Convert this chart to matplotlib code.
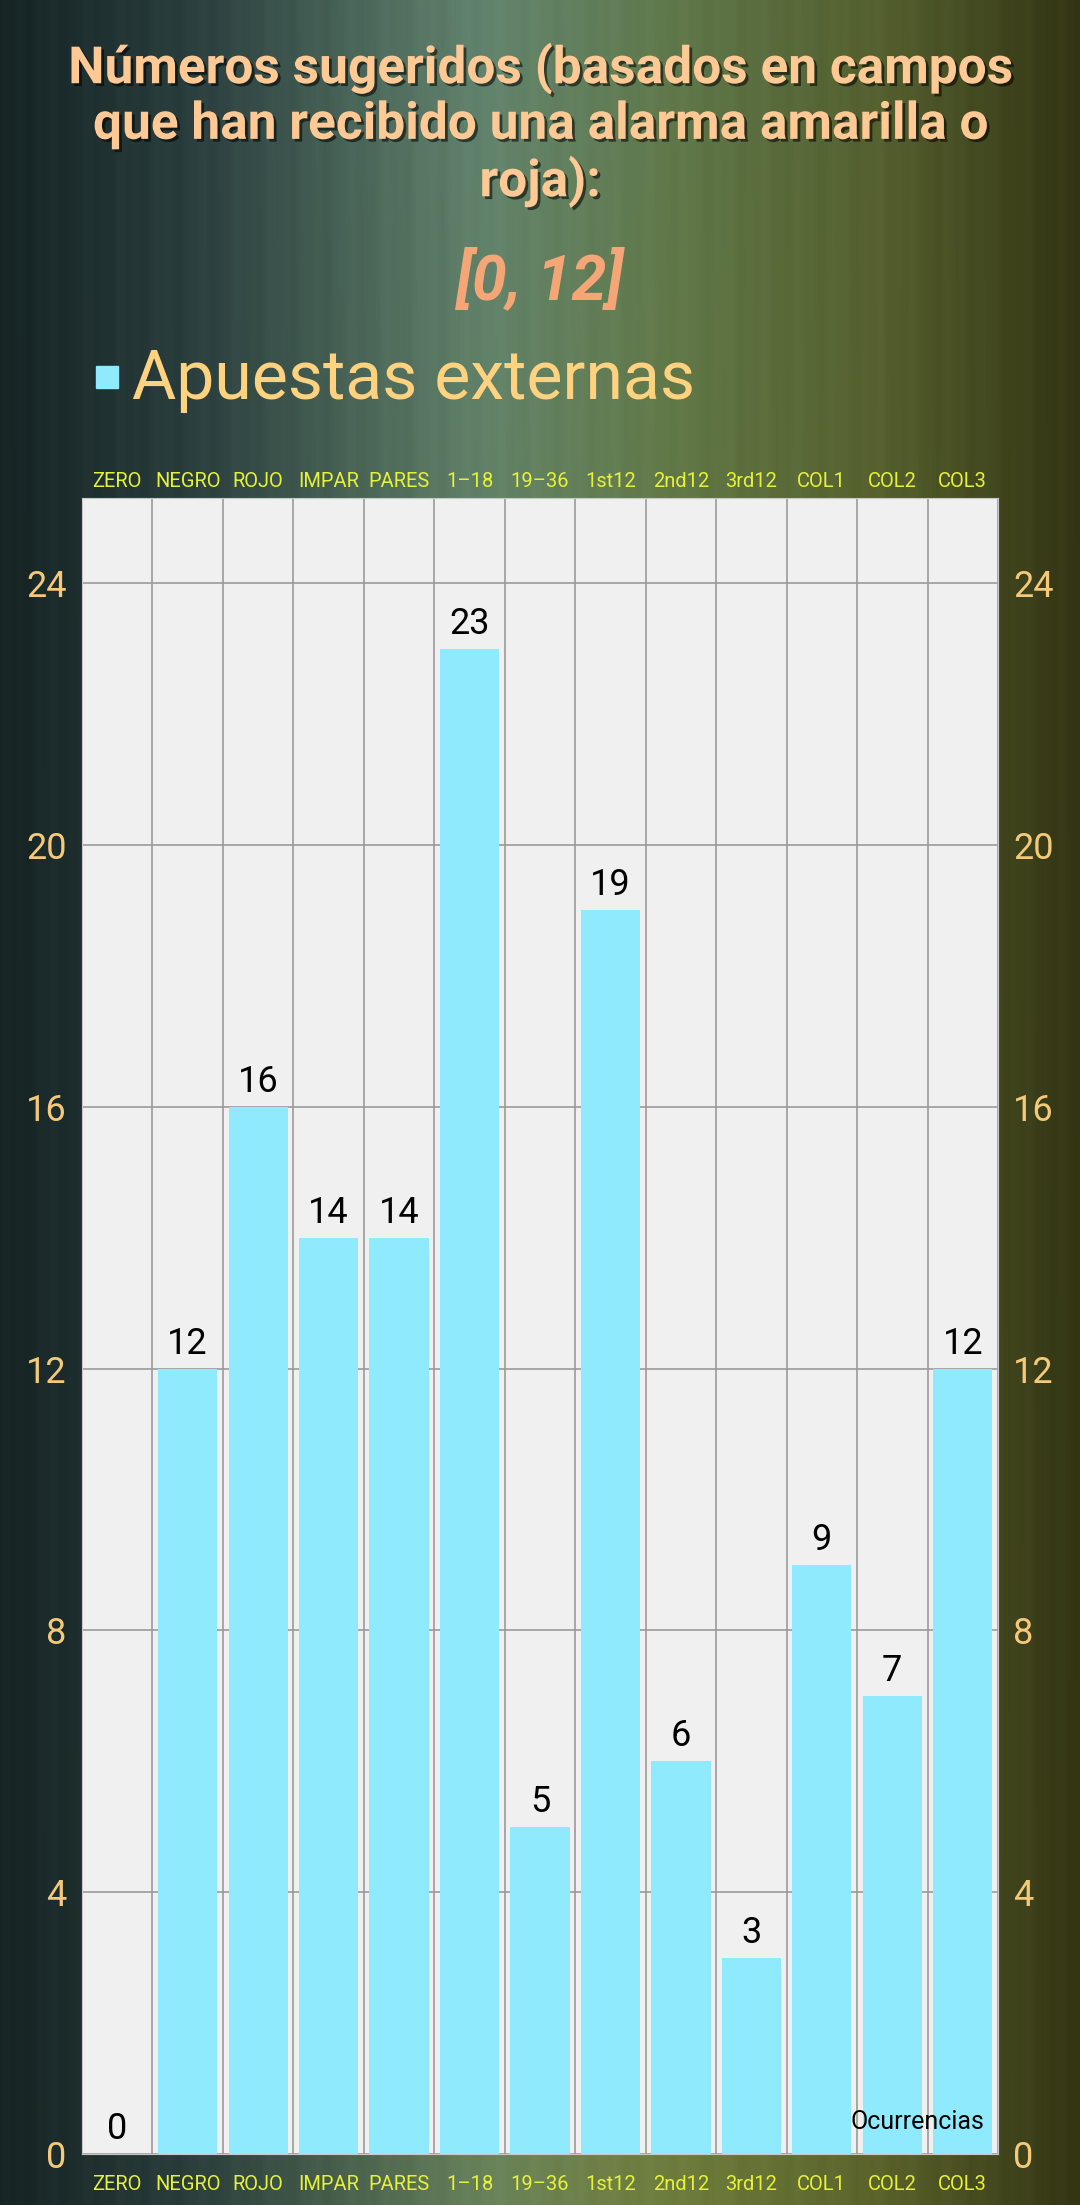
import numpy as np
import matplotlib
matplotlib.use('Agg')
from matplotlib import pyplot as plt
from matplotlib import patheffects as pe
from matplotlib import transforms as mtrans
from matplotlib.colors import LinearSegmentedColormap

plt.rcParams['font.family'] = ['Roboto', 'DejaVu Sans']

# data
categories = ['ZERO', 'NEGRO', 'ROJO', 'IMPAR', 'PARES', '1\u201318', '19\u201336',
              '1st12', '2nd12', '3rd12', 'COL1', 'COL2', 'COL3']
ocurrencias = [0, 12, 16, 14, 14, 23, 5, 19, 6, 3, 9, 7, 12]
yticks = [0, 4, 8, 12, 16, 20, 24]
suggested = [0, 12]

title = 'Números sugeridos (basados en campos\nque han recibido una alarma amarilla o\nroja):'

fig = plt.figure(figsize=(10.8, 22.05), dpi=100)

# fondo con degradado horizontal (y algo vertical)
bg = fig.add_axes([0, 0, 1, 1])
bg.axis('off')
cmap = LinearSegmentedColormap.from_list('fondo', [
    (0.0, '#162424'), (0.18, '#2a3e3e'), (0.45, '#587a64'),
    (0.62, '#5b7447'), (0.82, '#545f2e'), (1.0, '#333514')])
xs = np.linspace(0, 1, 540)
ys = np.linspace(0, 1, 400)
X, Y = np.meshgrid(xs, ys)
rgb = cmap(X)[..., :3]
# un poco mas claro/amarillo abajo en el centro
warm = np.exp(-((X - 0.55) / 0.25) ** 2) * (1 - Y)
rgb[..., 0] += 0.08 * warm
rgb[..., 1] += 0.04 * warm
rgb[..., 2] -= 0.04 * warm
# parte alta del centro algo mas gris
cool = np.exp(-((X - 0.45) / 0.2) ** 2) * Y ** 2
rgb += 0.04 * cool[..., None]
# rayas verticales suaves
stripes = 0.006 * np.sin(xs * 180) + 0.004 * np.sin(xs * 410)
rgb += stripes[None, :, None]
bg.imshow(np.clip(rgb, 0, 1), aspect='auto', extent=[0, 1, 0, 1], origin='lower')
bg.set_xlim(0, 1)
bg.set_ylim(0, 1)

# titulo
fig.text(0.5, 1 - 125 / 2205, title, ha='center', va='center', fontsize=37,
         fontweight='bold', color='#ffc995', linespacing=1.13,
         path_effects=[pe.withSimplePatchShadow(offset=(2, -2), shadow_rgbFace='k', alpha=0.55)])
fig.text(0.5, 1 - 280 / 2205, '[%d, %d]' % tuple(suggested), ha='center', va='center',
         fontsize=45, fontweight='bold', fontstyle='italic', color='#f5a676')

# leyenda
fig.patches.append(plt.Rectangle((96 / 1080, 1 - 388 / 2205), 22 / 1080, 22 / 2205,
                                 transform=fig.transFigure, color='#8eeafc'))
fig.text(132 / 1080, 1 - 380 / 2205, 'Apuestas externas', ha='left', va='center',
         fontsize=49, color='#ffd27f')

# grafico
ax = fig.add_axes([82 / 1080, 51 / 2205, 916 / 1080, 1656 / 2205])
ax.set_facecolor('#f0f0f0')
x = np.arange(len(categories))
ax.bar(x, ocurrencias, width=0.84, color='#8eeafc', zorder=3)
for xi, v in zip(x, ocurrencias):
    ax.annotate(str(v), (xi, v), xytext=(0, 5), textcoords='offset points',
                ha='center', va='bottom', fontsize=26, color='black', zorder=4)

ax.set_xlim(-0.5, len(categories) - 0.5)
ax.set_ylim(0, max(ocurrencias) * 1.1)
ax.set_xticks(x)
ax.set_xticklabels(categories)
ax.set_xticks(np.arange(len(categories) + 1) - 0.5, minor=True)
ax.set_yticks(yticks)
ax.grid(which='minor', axis='x', color='#9a9a9a', lw=1.2, zorder=1)
ax.grid(which='major', axis='y', color='#9a9a9a', lw=1.2, zorder=1)
ax.tick_params(axis='x', which='both', length=0, labeltop=True, labelbottom=True,
               labelsize=14.5, labelcolor='#e6f23a', pad=5)
ax.tick_params(axis='y', length=0, labelleft=True, labelright=True,
               labelsize=26, labelcolor='#f5c97a', pad=11)
# etiquetas de abajo algo mas separadas
shift = mtrans.ScaledTranslation(0, -14 / 100, fig.dpi_scale_trans)
for t in ax.xaxis.get_major_ticks():
    t.label1.set_transform(t.label1.get_transform() + shift)
for s in ax.spines.values():
    s.set_color('#c8c8c8')

ax.text(0.985, 0.015, 'Ocurrencias', transform=ax.transAxes, ha='right', va='baseline',
        fontsize=18, color='black', zorder=5)

fig.savefig('out.png', dpi=100)
